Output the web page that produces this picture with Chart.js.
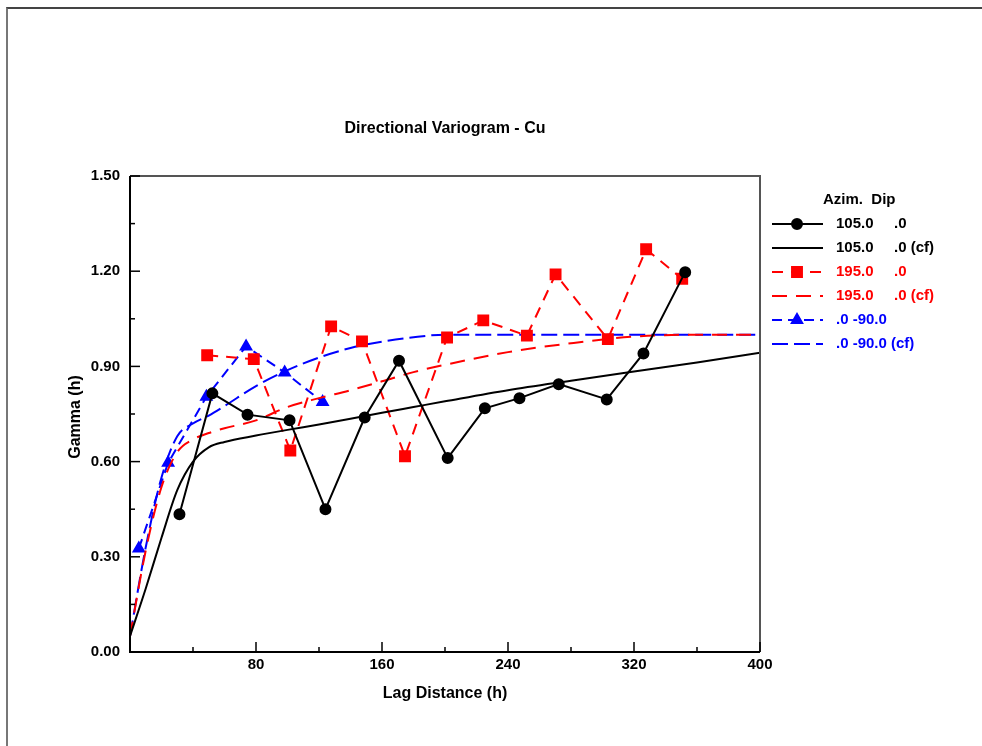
<!DOCTYPE html>
<html>
<head>
<meta charset="utf-8">
<script src="https://cdn.jsdelivr.net/npm/chart.js@4.4.0/dist/chart.umd.min.js"></script>
<style>
  html, body { margin: 0; padding: 0; background: #fff; }
  #wrap { position: relative; width: 982px; height: 746px; overflow: hidden; }
  #frame { position: absolute; left: 6px; top: 7px; width: 990px; height: 760px;
           border-top: 2px solid #444; border-left: 2px solid #777; }
  canvas { position: absolute; left: 0; top: 0; }
</style>
</head>
<body>
<div id="wrap">
  <div id="frame"></div>
  <canvas id="chart" width="982" height="746"></canvas>
</div>
<script>
// experimental variogram points (lag, gamma)
const lag105 = [31.4, 52.3, 74.6, 101.3, 124.1, 149.0, 170.8, 201.7, 225.3, 247.3, 272.2, 302.7, 326.0, 352.5];
const gam105 = [0.434, 0.815, 0.748, 0.730, 0.450, 0.739, 0.918, 0.611, 0.768, 0.800, 0.844, 0.796, 0.941, 1.197];

const lag195 = [49.0, 78.6, 101.8, 127.7, 147.3, 174.6, 201.3, 224.3, 252.0, 270.2, 303.4, 327.7, 350.6];
const gam195 = [0.935, 0.923, 0.635, 1.026, 0.979, 0.617, 0.991, 1.045, 0.997, 1.190, 0.986, 1.269, 1.176];

const lagVert = [5.6, 24.2, 48.5, 73.7, 98.2, 122.3];
const gamVert = [0.326, 0.596, 0.804, 0.963, 0.881, 0.788];

// fitted models (cf)
const modelLag = [0, 10, 20, 30, 40, 50, 60, 80, 100, 120, 140, 160, 180, 200, 240, 280, 320, 360, 400];
const cf105  = [0.05, 0.20, 0.36, 0.51, 0.60, 0.645, 0.662, 0.682, 0.70, 0.717, 0.735, 0.754, 0.772, 0.79, 0.825, 0.855, 0.884, 0.912, 0.943];
const cf195  = [0.05, 0.32, 0.52, 0.63, 0.67, 0.69, 0.705, 0.73, 0.772, 0.80, 0.825, 0.853, 0.882, 0.905, 0.945, 0.973, 0.994, 1.0, 1.0];
const cfVert = [0.05, 0.33, 0.55, 0.68, 0.72, 0.745, 0.775, 0.838, 0.888, 0.928, 0.958, 0.978, 0.992, 1.0, 1.0, 1.0, 1.0, 1.0, 1.0];

const xTicksLabelled = [80, 160, 240, 320, 400];
const legendText = [
  ['105.0', '.0'], ['105.0', '.0 (cf)'],
  ['195.0', '.0'], ['195.0', '.0 (cf)'],
  ['.0 -90.0', ''], ['.0 -90.0 (cf)', '']
];

const pts = (xs, ys) => xs.map((x, i) => ({ x: x, y: ys[i] }));
const FONT = '"Liberation Sans", Arial, sans-serif';

const decor = {
  id: 'decor',
  afterDraw(chart) {
    const { ctx, chartArea: a, scales } = chart;
    const xs = scales.x, ys = scales.y;
    ctx.save();
    // box
    ctx.lineWidth = 2;
    ctx.strokeStyle = '#555';
    ctx.beginPath();
    ctx.moveTo(a.left, a.top); ctx.lineTo(a.right, a.top); ctx.lineTo(a.right, a.bottom);
    ctx.stroke();
    ctx.strokeStyle = '#000';
    ctx.beginPath();
    ctx.moveTo(a.left, a.top); ctx.lineTo(a.left, a.bottom); ctx.lineTo(a.right, a.bottom);
    ctx.stroke();
    // inward ticks
    ctx.lineWidth = 1.5;
    xs.ticks.forEach(t => {
      const px = xs.getPixelForValue(t.value);
      const len = (t.value % 80 === 0) ? 10 : 5;
      ctx.beginPath(); ctx.moveTo(px, a.bottom); ctx.lineTo(px, a.bottom - len); ctx.stroke();
    });
    ys.ticks.forEach(t => {
      const py = ys.getPixelForValue(t.value);
      const len = (Math.round(t.value / 0.15) % 2 === 0) ? 10 : 5;
      ctx.beginPath(); ctx.moveTo(a.left, py); ctx.lineTo(a.left + len, py); ctx.stroke();
    });
    // titles
    ctx.fillStyle = '#000';
    ctx.textAlign = 'center';
    ctx.textBaseline = 'middle';
    ctx.font = 'bold 16px ' + FONT;
    ctx.fillText('Directional Variogram - Cu', (a.left + a.right) / 2, 129);
    ctx.font = 'bold 16px ' + FONT;
    ctx.fillText('Lag Distance (h)', (a.left + a.right) / 2, 694);
    ctx.save();
    ctx.translate(76, (a.top + a.bottom) / 2 + 3);
    ctx.rotate(-Math.PI / 2);
    ctx.fillText('Gamma (h)', 0, 0);
    ctx.restore();
    // legend
    ctx.textAlign = 'left';
    ctx.font = 'bold 15px ' + FONT;
    ctx.fillText('Azim.  Dip', 823, 200);
    chart.data.datasets.forEach((ds, i) => {
      const y = 224 + i * 24;
      ctx.save();
      ctx.strokeStyle = ds.borderColor;
      ctx.lineWidth = ds.borderWidth;
      ctx.setLineDash(ds.borderDash || []);
      ctx.beginPath(); ctx.moveTo(772, y); ctx.lineTo(823, y); ctx.stroke();
      ctx.setLineDash([]);
      if (ds.pointRadius > 0) {
        ctx.fillStyle = ds.borderColor;
        Chart.helpers.drawPoint(ctx, { pointStyle: ds.pointStyle, radius: ds.pointRadius, rotation: 0, borderWidth: 1 }, 797, y);
      }
      ctx.restore();
      ctx.fillStyle = ds.borderColor;
      ctx.fillText(legendText[i][0], 836, y);
      if (legendText[i][1]) ctx.fillText(legendText[i][1], 894, y);
    });
    ctx.restore();
  }
};

const ctx = document.getElementById('chart').getContext('2d');
new Chart(ctx, {
  type: 'line',
  data: {
    datasets: [
      { label: '105.0 .0', data: pts(lag105, gam105), borderColor: '#000', backgroundColor: '#000',
        borderWidth: 2, pointStyle: 'circle', pointRadius: 5, tension: 0 },
      { label: '105.0 .0 (cf)', data: pts(modelLag, cf105), borderColor: '#000',
        borderWidth: 2, pointRadius: 0, cubicInterpolationMode: 'monotone' },
      { label: '195.0 .0', data: pts(lag195, gam195), borderColor: '#ff0000', backgroundColor: '#ff0000',
        borderWidth: 2, borderDash: [11, 8], pointStyle: 'rect', pointRadius: 7, tension: 0 },
      { label: '195.0 .0 (cf)', data: pts(modelLag, cf195), borderColor: '#ff0000',
        borderWidth: 2, borderDash: [15, 9], pointRadius: 0, cubicInterpolationMode: 'monotone' },
      { label: '.0 -90.0', data: pts(lagVert, gamVert), borderColor: '#0000ff', backgroundColor: '#0000ff',
        borderWidth: 2, borderDash: [10, 6], pointStyle: 'triangle', pointRadius: 6, tension: 0 },
      { label: '.0 -90.0 (cf)', data: pts(modelLag, cfVert), borderColor: '#0000ff',
        borderWidth: 2, borderDash: [16, 6], pointRadius: 0, cubicInterpolationMode: 'monotone' }
    ]
  },
  options: {
    responsive: false,
    animation: false,
    devicePixelRatio: 1,
    layout: { padding: { left: 0, top: 176, right: 222, bottom: 0 } },
    plugins: { legend: { display: false }, tooltip: { enabled: false } },
    scales: {
      x: {
        type: 'linear', min: 0, max: 400,
        grid: { display: false, drawTicks: false }, border: { display: false },
        ticks: {
          stepSize: 40, autoSkip: false, maxRotation: 0, padding: 4, color: '#000',
          font: { family: FONT, size: 15, weight: 'bold' },
          callback: v => xTicksLabelled.includes(v) ? String(v) : ''
        },
        afterFit: s => { s.height = 94; }
      },
      y: {
        min: 0, max: 1.5,
        grid: { display: false, drawTicks: false }, border: { display: false },
        ticks: {
          stepSize: 0.15, autoSkip: false, padding: 10, color: '#000',
          font: { family: FONT, size: 15, weight: 'bold' },
          callback: v => { const k = Math.round(v / 0.15); return k % 2 === 0 ? (k * 0.15).toFixed(2) : ''; }
        },
        afterFit: s => { s.width = 130; }
      }
    }
  },
  plugins: [decor]
});
</script>
</body>
</html>
